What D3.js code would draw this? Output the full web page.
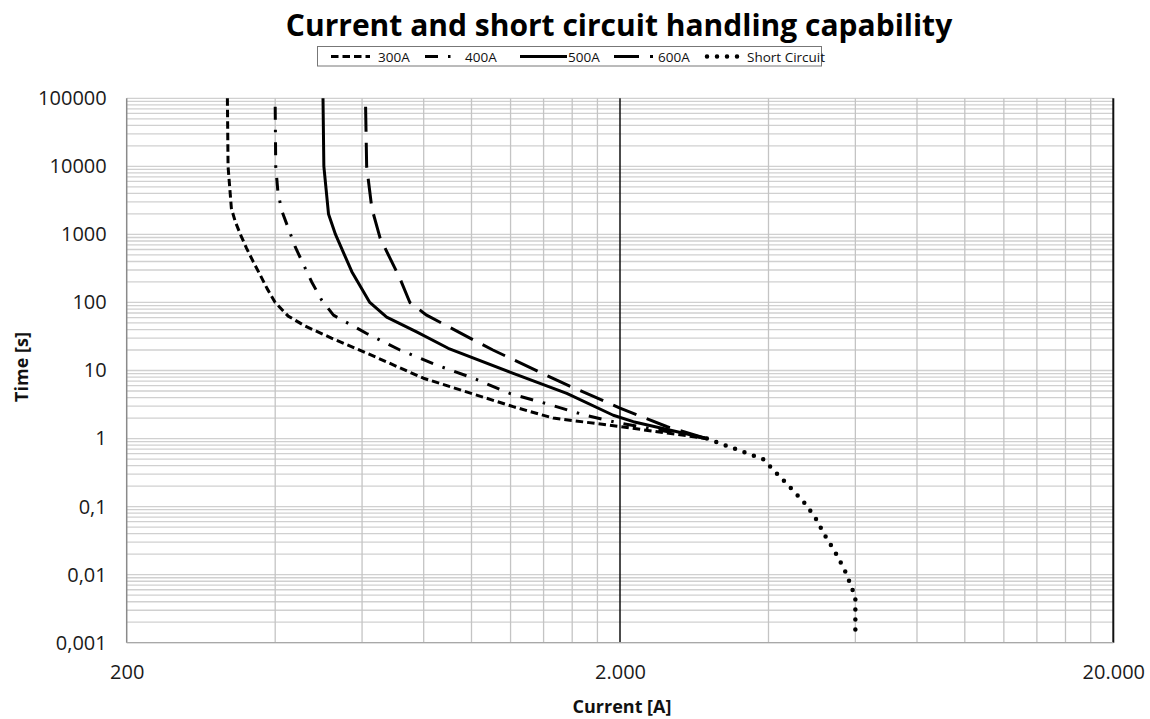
<!DOCTYPE html>
<html>
<head>
<meta charset="utf-8">
<style>
body { margin: 0; background: #fff; }
svg text { font-family: "Open Sans", sans-serif; fill: #222; }
</style>
</head>
<body>
<svg id="chart" width="1150" height="719"></svg>
<script src="https://d3js.org/d3.v7.min.js"></script>
<script>
// values (current in A, time in s)
const current300 = [320, 321, 324, 326, 332, 340, 350, 361, 373, 385, 400, 425, 460, 520, 603, 799, 1215, 1464, 2000, 3000];
const time300    = [100000, 10000, 4240, 2420, 1540, 1000, 625, 397, 253, 161, 100, 63, 45, 30, 19, 7.7, 2.94, 2.0, 1.5, 1];

const current400 = [400, 401, 405, 412, 439, 474, 497, 525, 613, 716, 850, 1009, 1196, 1431, 1700, 2000, 3000];
const time400    = [75000, 10000, 4300, 2285, 659, 202, 108, 65, 35, 20, 12, 7.7, 4.6, 3.2, 2.2, 1.68, 1];

const current500 = [500, 502, 513, 530, 572, 622, 673, 774, 897, 1215, 1560, 1938, 2128, 3000];
const time500    = [100000, 10000, 2000, 1000, 283, 100, 61, 37, 21.2, 9.1, 4.6, 2.2, 1.77, 1];

const current600 = [610, 613, 628, 653, 716, 750, 811, 1025, 1105, 1535, 2000, 2493, 3000];
const time600    = [75000, 10000, 2420, 876, 226, 100, 65, 26.5, 20, 6.5, 2.8, 1.49, 1];

const currentSC = [3000, 3900, 4400, 4700, 4970, 5200, 5450, 5700, 5900, 6000, 6000];
const timeSC    = [1, 0.5, 0.2, 0.12, 0.07, 0.038, 0.022, 0.012, 0.0065, 0.0045, 0.0012];

const seriesNames = ["300A", "400A", "500A", "600A", "Short Circuit"];
const xTicks = [200, 2000, 20000];
const yTicks = [0.001, 0.01, 0.1, 1, 10, 100, 1000, 10000, 100000];

const series = [
    {name: seriesNames[0], x: current300, y: time300, dash: "7.5,4", w: 3, cap: "butt"},
    {name: seriesNames[1], x: current400, y: time400, dash: "13,10,2.5,10", w: 3, cap: "butt"},
    {name: seriesNames[2], x: current500, y: time500, dash: null, w: 3, cap: "butt"},
    {name: seriesNames[3], x: current600, y: time600, dash: "25,11", w: 3, cap: "butt"},
    {name: seriesNames[4], x: currentSC, y: timeSC, dash: "0,10", w: 4.5, cap: "round"}
];

const svg = d3.select("#chart");
const plotL = 126.7, plotR = 1113.3, plotT = 98.3, plotB = 642.7;

const x = d3.scaleLog().domain([200, 20000]).range([plotL, plotR]);
const y = d3.scaleLog().domain([0.001, 100000]).range([plotB, plotT]);

const de = d3.formatLocale({decimal: ",", thousands: ".", grouping: [3], currency: ["", ""]});

// horizontal grid, all decades with minors
let hLines = [];
for (let e = -3; e <= 4; e++) {
    for (let k = 1; k <= 9; k++) hLines.push(k * Math.pow(10, e));
}
hLines.push(100000);
svg.append("g").selectAll("line")
    .data(hLines)
    .enter()
    .append("line")
    .attr("x1", plotL).attr("x2", plotR)
    .attr("y1", d => y(d)).attr("y2", d => y(d))
    .style("stroke", "#d0d0d0")
    .style("stroke-width", 1.3);

// vertical minors
let vLines = [];
[200, 2000].forEach(d => { for (let k = 2; k <= 9; k++) vLines.push(d * k); });
svg.append("g").selectAll("line")
    .data(vLines)
    .enter()
    .append("line")
    .attr("x1", d => x(d)).attr("x2", d => x(d))
    .attr("y1", plotT).attr("y2", plotB)
    .style("stroke", "#c4c4c4")
    .style("stroke-width", 1.3);

// major verticals are black
svg.append("line")
    .attr("x1", x(2000)).attr("x2", x(2000)).attr("y1", plotT).attr("y2", plotB)
    .style("stroke", "#111").style("stroke-width", 1.5);
svg.append("line")
    .attr("x1", x(20000)).attr("x2", x(20000)).attr("y1", plotT).attr("y2", plotB)
    .style("stroke", "#111").style("stroke-width", 2);

// axis lines
svg.append("line")
    .attr("x1", plotL).attr("x2", plotL).attr("y1", plotT).attr("y2", plotB)
    .style("stroke", "#8a8a8a").style("stroke-width", 1.5);
svg.append("line")
    .attr("x1", plotL).attr("x2", plotR).attr("y1", plotB).attr("y2", plotB)
    .style("stroke", "#a8a8a8").style("stroke-width", 1.3);

// curves
const line = d3.line()
    .x(d => x(d[0]))
    .y(d => y(d[1]));

series.forEach(s => {
    const pts = s.x.map((v, i) => [v, s.y[i]]);
    svg.append("path")
        .attr("d", line(pts))
        .style("fill", "none")
        .style("stroke", "#000")
        .style("stroke-width", s.w)
        .style("stroke-linecap", s.cap)
        .style("stroke-linejoin", "round")
        .style("stroke-dasharray", s.dash);
});

// axes
const yAxis = d3.axisLeft(y)
    .tickValues(yTicks)
    .tickFormat(de.format(""))
    .tickSize(0)
    .tickPadding(20);
const gy = svg.append("g").attr("transform", `translate(${plotL},0)`).call(yAxis);
gy.select(".domain").remove();
gy.selectAll("text").style("font-size", "20px").style("fill", "#1a1a1a").style("font-family", "Open Sans");

const xAxis = d3.axisBottom(x)
    .tickValues(xTicks)
    .tickFormat(de.format(","))
    .tickSize(0)
    .tickPadding(22);
const gx = svg.append("g").attr("transform", `translate(0,${plotB})`).call(xAxis);
gx.select(".domain").remove();
gx.selectAll("text").style("font-size", "20px").style("fill", "#1a1a1a").style("font-family", "Open Sans");

// titles
svg.append("text")
    .attr("x", 619).attr("y", 36)
    .attr("text-anchor", "middle")
    .style("font-size", "30px").style("font-weight", "bold").style("fill", "#000")
    .text("Current and short circuit handling capability");

svg.append("text")
    .attr("x", 622).attr("y", 713)
    .attr("text-anchor", "middle")
    .style("font-size", "18px").style("font-weight", "bold").style("fill", "#111")
    .text("Current [A]");

svg.append("text")
    .attr("transform", "translate(28,367) rotate(-90)")
    .attr("text-anchor", "middle")
    .style("font-size", "18px").style("font-weight", "bold").style("fill", "#111")
    .text("Time [s]");

// legend
svg.append("rect")
    .attr("x", 317.5).attr("y", 46.5).attr("width", 504).attr("height", 19.5)
    .style("fill", "#fff").style("stroke", "#777").style("stroke-width", 1);

const legendX = [331, 425, 520, 614, 707];
const legendLen = [39, 34, 47, 39, 38];
const legendGap = [8, 6, 1, 5, 2];
series.forEach((s, i) => {
    const lx = legendX[i];
    svg.append("line")
        .attr("x1", lx).attr("x2", lx + legendLen[i])
        .attr("y1", 56.5).attr("y2", 56.5)
        .style("stroke", "#000")
        .style("stroke-width", s.w)
        .style("stroke-linecap", s.cap)
        .style("stroke-dasharray", s.dash);
    svg.append("text")
        .attr("x", lx + legendLen[i] + legendGap[i])
        .attr("y", 61.5)
        .style("font-size", "13.5px").style("fill", "#111")
        .text(s.name);
});
</script>
</body>
</html>
